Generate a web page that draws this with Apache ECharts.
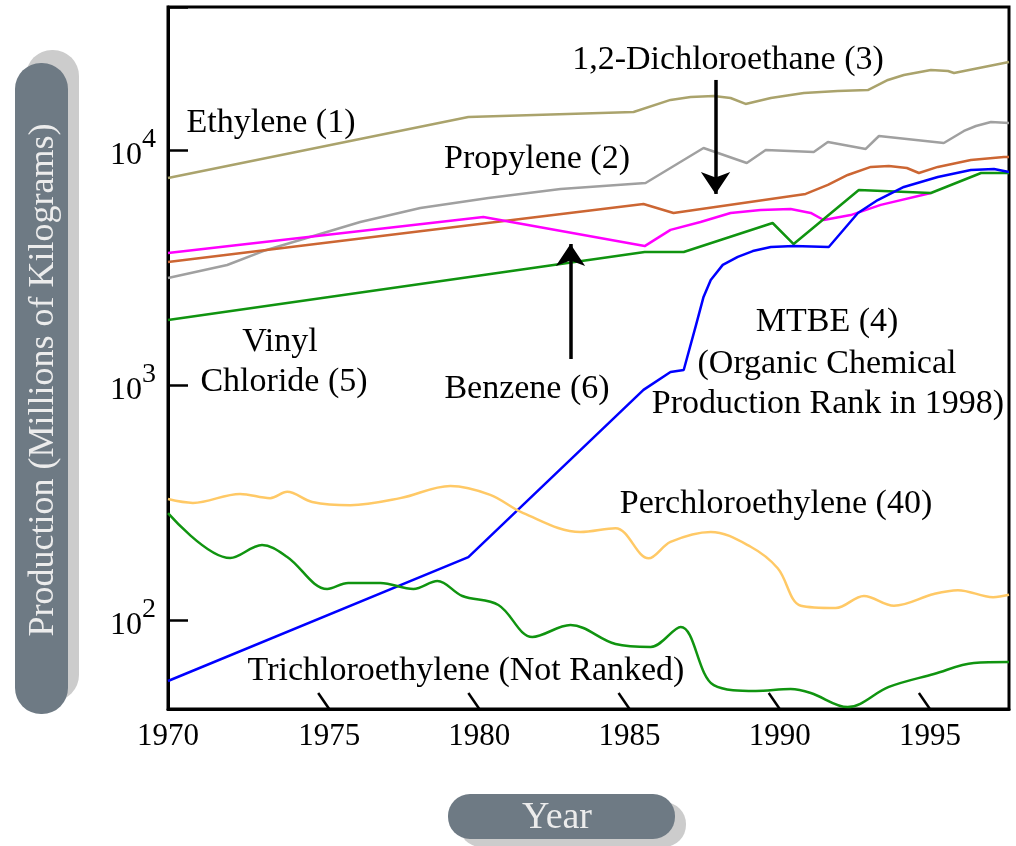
<!DOCTYPE html>
<html>
<head>
<meta charset="utf-8">
<script src="https://cdn.jsdelivr.net/npm/echarts@6/dist/echarts.min.js"></script>
<style>
html,body{margin:0;padding:0;background:#fff;}
#chart{width:1016px;height:846px;}
</style>
</head>
<body>
<div id="chart"></div>
<script>
// ---- data: [year, production in millions of kg] ----
const ethylene = [[1970,7600],[1980,13820],[1985.5,14510],[1986.73,16330],[1987.4,16810],[1988.17,16980],[1988.73,16640],[1989.23,15700],[1990.07,16640],[1991.17,17480],[1992.3,17830],[1993.3,17990],[1993.97,19860],[1994.5,20850],[1995.4,21880],[1995.97,21670],[1996.17,21270],[1998,23690]];
const propylene = [[1970,2852],[1971.97,3240],[1973.17,3715],[1974.73,4265],[1976.4,4940],[1978.4,5665],[1980.67,6250],[1983.07,6825],[1985.9,7236],[1987.83,10200],[1989.27,8805],[1989.9,10000],[1991.5,9805],[1991.97,10815],[1993.23,10100],[1993.67,11470],[1995.83,10710],[1996.5,12050],[1996.9,12650],[1997.4,13150],[1998,13030]];
const dichloroethane = [[1970,3336],[1985.83,5890],[1986.83,5395],[1991.23,6500],[1991.97,7100],[1992.63,7830],[1993.4,8470],[1994,8550],[1994.6,8380],[1995,7980],[1995.63,8470],[1996.73,9070],[1997.83,9340],[1998,9340]];
const benzene = [[1970,3645],[1980.5,5190],[1985.87,3900],[1986.73,4570],[1987.73,4940],[1988.73,5395],[1989.73,5555],[1990.73,5610],[1991.4,5395],[1991.83,5035],[1992.73,5285],[1993.73,5840],[1995.4,6560]];
const vinylChloride = [[1970,1891],[1985.87,3680],[1987.17,3680],[1990.13,4890],[1990.83,3980],[1993,6760],[1995.4,6560],[1997.07,7980],[1998,7980]];
const mtbe = [[1970,55],[1980,185],[1985.83,953],[1986.73,1135],[1987.17,1158],[1987.57,1780],[1987.83,2370],[1988.07,2800],[1988.47,3245],[1988.97,3510],[1989.47,3715],[1990.07,3865],[1990.83,3900],[1992,3865],[1992.97,5395],[1993.63,6125],[1994.5,6960],[1995.63,7675],[1996.73,8220],[1997.5,8300],[1998,8060]];
const perchloroethylene = [[1970,327],[1970.83,315],[1972.4,344],[1973.4,330],[1973.97,351],[1974.8,318],[1976.07,308],[1977.73,330],[1979.4,372],[1980.73,341],[1981.83,285],[1983.73,237],[1984.9,246],[1986,183],[1986.73,215],[1988.07,237],[1989.4,205],[1990.3,166],[1991.07,115],[1992.23,112.5],[1993.17,126.6],[1994.17,115],[1995.5,129],[1996.3,134],[1997.47,125],[1998,128]];
const trichloroethylene = [[1970,285],[1972.07,183.5],[1973.13,208.5],[1973.97,185.5],[1975.3,135.6],[1976,143.6],[1977.07,143.6],[1978.17,135.6],[1978.97,146.5],[1979.8,126.5],[1981,115.8],[1982.13,84.7],[1983.4,95.2],[1984.9,79],[1986.07,76.8],[1987.07,93.4],[1988.17,52.8],[1989.57,49.9],[1990.73,50.8],[1991.4,48.9],[1992.63,42.6],[1994,51.9],[1995.5,58.9],[1996.83,65.6],[1998,66.2]];
const xTickYears = [1975, 1980, 1985, 1990, 1995];
const xMin = 1970, xMax = 1998;
const yMin = 41.81, yMax = 40590;
// arrows [x, yStart, yEnd]
const dceArrow = [1988.23, 19860, 6500];
const benzeneArrow = [1983.4, 1290, 3981];

const FONT = '"Liberation Serif", "Times New Roman", serif';
const chart = echarts.init(document.getElementById('chart'), null, {renderer: 'canvas'});

function lineSeries(name, data, color, smooth) {
  return {
    name: name, type: 'line', data: data, showSymbol: false, symbol: 'none',
    smooth: smooth || false,
    lineStyle: {color: color, width: 2.5}, z: 3
  };
}
function arrowMark(a) {
  return {
    silent: true, symbol: ['none', 'arrow'], symbolSize: 22,
    label: {show: false},
    lineStyle: {color: '#000', width: 3.5, type: 'solid'},
    emphasis: {disabled: true},
    data: [[{coord: [a[0], a[1]]}, {coord: [a[0], a[2]]}]]
  };
}

function annot(text, x, y, size) {
  return {type: 'text', x: x, y: y, z: 10, style: {text: text, fill: '#000', font: (size || 34) + 'px ' + FONT, textAlign: 'center', textVerticalAlign: 'middle', align: 'center', verticalAlign: 'middle'}};
}

const option = {
  animation: false,
  backgroundColor: '#fff',
  grid: {left: 168, right: 7, top: 7, bottom: 137, show: true, borderColor: '#000', borderWidth: 3, backgroundColor: 'transparent'},
  xAxis: {
    type: 'value', min: xMin, max: xMax, interval: 5,
    axisLine: {show: true, lineStyle: {color: '#000', width: 3}},
    axisTick: {show: false},
    splitLine: {show: false},
    axisLabel: {
      margin: 12, showMaxLabel: false, color: '#000',
      formatter: function (v) { if (v === 1998) return ''; return v === 1970 ? '{a|' + v + '}' : '{b|' + v + '}'; },
      rich: {
        a: {fontSize: 31, fontFamily: FONT, color: '#000'},
        b: {fontSize: 31, fontFamily: FONT, color: '#000', padding: [0, 0, 0, 22]}
      }
    }
  },
  yAxis: {
    type: 'log', logBase: 10, min: yMin, max: yMax,
    axisLine: {show: true, lineStyle: {color: '#000', width: 3}},
    axisTick: {show: true, inside: true, length: 20, lineStyle: {color: '#000', width: 2.5}},
    minorTick: {show: false},
    splitLine: {show: false},
    axisLabel: {
      margin: 12, color: '#000',
      formatter: function (v) {
        const l = Math.log10(v), e = Math.round(l);
        if (Math.abs(l - e) > 1e-6) return '';
        return '{b|10}{s|' + e + '}';
      },
      rich: {
        b: {fontSize: 32, fontFamily: FONT, color: '#000', padding: [12, 0, 0, 0]},
        s: {fontSize: 28, fontFamily: FONT, color: '#000', padding: [0, 0, 20, 0]}
      }
    }
  },
  series: [
    lineSeries('Ethylene', ethylene, '#aaa36c'),
    lineSeries('Propylene', propylene, '#a0a0a0'),
    Object.assign(lineSeries('1,2-Dichloroethane', dichloroethane, '#cc6633'), {markLine: arrowMark(dceArrow)}),
    Object.assign(lineSeries('Benzene', benzene, '#ff00ff'), {markLine: arrowMark(benzeneArrow)}),
    lineSeries('Vinyl Chloride', vinylChloride, '#109410'),
    lineSeries('MTBE', mtbe, '#0000ff'),
    lineSeries('Perchloroethylene', perchloroethylene, '#ffc966', 0.35),
    lineSeries('Trichloroethylene', trichloroethylene, '#109410', 0.35),
    {
      type: 'custom', name: 'xticks', silent: true, clip: false, z: 5,
      data: xTickYears.map(function (y) { return [y, yMin]; }),
      renderItem: function (params, api) {
        const p = api.coord([api.value(0), api.value(1)]);
        return {type: 'line', shape: {x1: p[0], y1: p[1] - 16, x2: p[0] + 11, y2: p[1]}, style: {stroke: '#000', lineWidth: 2.5}};
      }
    }
  ],
  graphic: [
    {type: 'rect', shape: {x: 26, y: 50, width: 53, height: 651, r: 26}, style: {fill: '#cccccc'}, z: 0},
    {type: 'rect', shape: {x: 15, y: 63, width: 53, height: 651, r: 26}, style: {fill: '#6e7a84'}, z: 1},
    {type: 'text', x: 44, y: 380, rotation: Math.PI / 2, z: 2, style: {text: 'Production (Millions of Kilograms)', fill: '#ececec', font: '36px ' + FONT, textAlign: 'center', textVerticalAlign: 'middle', align: 'center', verticalAlign: 'middle'}},
    {type: 'rect', shape: {x: 459, y: 802, width: 227, height: 45, r: 22}, style: {fill: '#cccccc'}, z: 0},
    {type: 'rect', shape: {x: 448, y: 794, width: 227, height: 45, r: 22}, style: {fill: '#6e7a84'}, z: 1},
    {type: 'text', x: 557, y: 818, z: 2, style: {text: 'Year', fill: '#ececec', font: '38px ' + FONT, textAlign: 'center', textVerticalAlign: 'middle', align: 'center', verticalAlign: 'middle'}},
    annot('Ethylene (1)', 271, 123),
    annot('1,2-Dichloroethane (3)', 728, 60),
    annot('Propylene (2)', 537, 159),
    annot('Vinyl', 280, 342),
    annot('Chloride (5)', 284, 382),
    annot('Benzene (6)', 527, 389),
    annot('MTBE (4)', 827, 322),
    annot('(Organic Chemical', 827, 364),
    annot('Production Rank in 1998)', 828, 404),
    annot('Perchloroethylene (40)', 776, 504),
    annot('Trichloroethylene (Not Ranked)', 466, 671)
  ]
};
chart.setOption(option);
</script>
</body>
</html>
